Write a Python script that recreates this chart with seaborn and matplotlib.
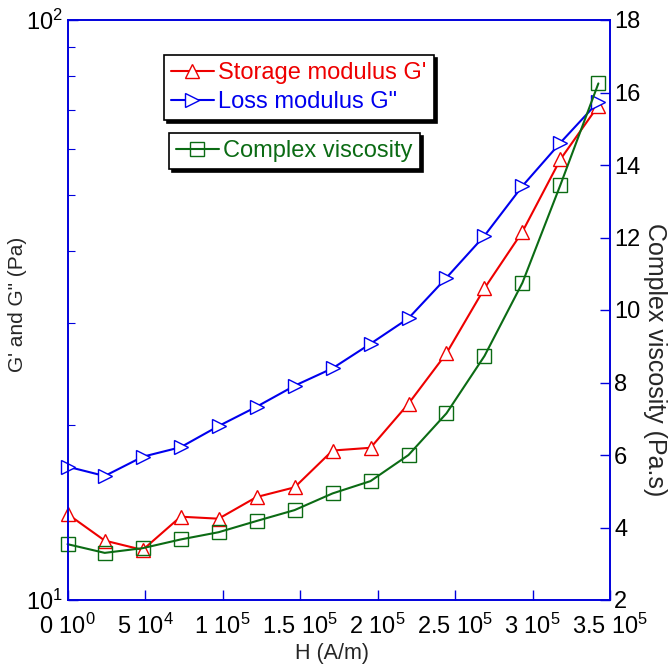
import matplotlib
matplotlib.use("Agg")
import matplotlib.pyplot as plt
import seaborn as sns
import numpy as np
from matplotlib.ticker import LogLocator, FixedLocator, NullFormatter
from matplotlib.lines import Line2D

# ---- data ----
H = [0, 24000, 48500, 73000, 97500, 122000, 146500, 171000, 195500,
     220000, 244500, 269000, 293500, 318000, 342500]
storage = [14.07, 12.66, 12.20, 13.92, 13.81, 15.05, 15.64, 18.10, 18.30,
           21.80, 26.63, 34.46, 43.15, 57.5, 71.2]
loss = [16.98, 16.36, 17.66, 18.34, 19.95, 21.54, 23.41, 25.09, 27.66,
        30.60, 35.95, 42.46, 51.73, 61.44, 72.31]
viscosity = [3.54, 3.30, 3.43, 3.67, 3.87, 4.18, 4.48, 4.94, 5.28,
             6.00, 7.15, 8.73, 10.75, 13.45, 16.25]

xticks = [0, 50000, 100000, 150000, 200000, 250000, 300000, 350000]
xticklabels = [r"0 10$^{0}$", r"5 10$^{4}$", r"1 10$^{5}$", r"1.5 10$^{5}$",
               r"2 10$^{5}$", r"2.5 10$^{5}$", r"3 10$^{5}$", r"3.5 10$^{5}$"]
right_ticks = [2, 4, 6, 8, 10, 12, 14, 16, 18]

RED = "#ee0000"
BLUE = "#0000ee"
GREEN = "#0b6b14"
AXC = "#0000dd"

sns.set_style("ticks")
plt.rcParams["font.family"] = ["Liberation Sans", "DejaVu Sans"]
plt.rcParams["mathtext.fontset"] = "custom"
plt.rcParams["mathtext.rm"] = "Liberation Sans"
plt.rcParams["mathtext.it"] = "Liberation Sans"

fig = plt.figure(figsize=(6.7, 6.64), dpi=100)
ax = fig.add_axes([67.5 / 670, 64 / 664, (610 - 67.5) / 670, 580 / 664])
ax2 = ax.twinx()

ms = 10.5
sns.lineplot(x=H, y=storage, ax=ax, color=RED, marker="^", markersize=ms,
             markerfacecolor="white", markeredgecolor=RED, markeredgewidth=1.0,
             linewidth=1.5, legend=False, clip_on=False)
sns.lineplot(x=H, y=loss, ax=ax, color=BLUE, marker=">", markersize=ms,
             markerfacecolor="white", markeredgecolor=BLUE, markeredgewidth=1.0,
             linewidth=1.5, legend=False, clip_on=False)
sns.lineplot(x=H, y=viscosity, ax=ax2, color=GREEN, marker="s", markersize=ms,
             markerfacecolor="none", markeredgecolor=GREEN, markeredgewidth=1.0,
             linewidth=1.5, legend=False, clip_on=False)

ax.set_yscale("log")
ax.set_ylim(10, 100)
ax.set_xlim(0, 350000)
ax2.set_ylim(2, 18)

ax.xaxis.set_major_locator(FixedLocator(xticks))
ax.set_xticklabels(xticklabels)
ax.yaxis.set_major_locator(LogLocator(base=10, numticks=5))
ax.yaxis.set_minor_locator(LogLocator(base=10, subs=np.arange(2, 10), numticks=12))
ax.yaxis.set_minor_formatter(NullFormatter())
ax2.yaxis.set_major_locator(FixedLocator(right_ticks))
ax2.set_yticklabels([str(t) for t in right_ticks])

fs_tick = 17
for a in (ax, ax2):
    for s in a.spines.values():
        s.set_color(AXC)
        s.set_linewidth(1.2)
ax.tick_params(axis="both", which="major", direction="in", length=7, width=1,
               color=AXC, labelsize=fs_tick, labelcolor="black", pad=3)
ax.tick_params(axis="y", which="minor", direction="in", length=5, width=0.8,
               color=AXC)
ax.tick_params(axis="x", which="major", pad=10)
ax2.tick_params(axis="y", which="major", direction="in", length=7, width=1,
                color=AXC, labelsize=fs_tick, labelcolor="black", pad=3)

ax.set_xlabel("H (A/m)", fontsize=15.5)
ax.xaxis.set_label_coords(0.4876, -0.074)
ax.set_ylabel("G' and G\" (Pa)", fontsize=15)
ax.yaxis.set_label_coords(-0.075, 0.51)
ax2.set_ylabel("Complex viscosity (Pa.s)", fontsize=18, rotation=270,
               va="center", ha="center")
ax2.yaxis.set_label_coords(1.083, 0.414)

# legends
h_red = Line2D([], [], color=RED, marker="^", markersize=ms, markerfacecolor="white",
               markeredgecolor=RED, linewidth=1.5)
h_blue = Line2D([], [], color=BLUE, marker=">", markersize=ms, markerfacecolor="white",
                markeredgecolor=BLUE, linewidth=1.5)
h_green = Line2D([], [], color=GREEN, marker="s", markersize=ms, markerfacecolor="none",
                 markeredgecolor=GREEN, linewidth=1.5)

leg1 = ax2.legend([h_red, h_blue], ["Storage modulus G'", "Loss modulus G\""],
                  loc="upper left", bbox_to_anchor=(164 / 670, 1 - 55 / 664),
                  bbox_transform=fig.transFigure, frameon=True, fancybox=False,
                  shadow={"color": "black", "alpha": 1.0}, edgecolor="black",
                  fontsize=17, labelcolor=[RED, BLUE], handlelength=1.8,
                  handletextpad=0.2, borderpad=0.3, labelspacing=0.3,
                  borderaxespad=0)
leg1.get_frame().set_linewidth(1.2)
ax2.add_artist(leg1)
leg2 = ax2.legend([h_green], ["Complex viscosity"],
                  loc="upper left", bbox_to_anchor=(169 / 670, 1 - 133 / 664),
                  bbox_transform=fig.transFigure, frameon=True, fancybox=False,
                  shadow={"color": "black", "alpha": 1.0}, edgecolor="black",
                  fontsize=17, labelcolor=[GREEN], handlelength=1.8,
                  handletextpad=0.2, borderpad=0.3, borderaxespad=0)
leg2.get_frame().set_linewidth(1.2)

fig.savefig("out.png", dpi=100)
